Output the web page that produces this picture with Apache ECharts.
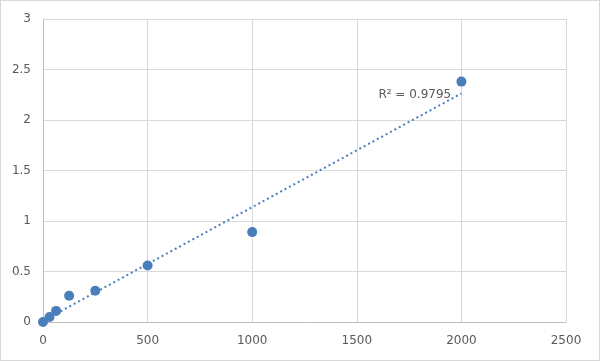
<!DOCTYPE html>
<html>
<head>
<meta charset="utf-8">
<script src="https://cdn.jsdelivr.net/npm/echarts@6/dist/echarts.min.js"></script>
<style>
html,body{margin:0;padding:0;background:#fff;}
#c{position:absolute;left:0;top:0;width:598px;height:359px;border:1px solid #d9d9d9;}
</style>
</head>
<body>
<div id="c"></div>
<script>
var concentrations = [0, 31.25, 62.5, 125, 250, 500, 1000, 2000];
var odValues = [0, 0.05, 0.11, 0.26, 0.31, 0.56, 0.89, 2.38];
var xTicks = [0, 500, 1000, 1500, 2000, 2500];
var yTicks = [0, 0.5, 1, 1.5, 2, 2.5, 3];
var r2Label = 'R² = 0.9795';

// linear least-squares trendline from the data
var n = concentrations.length, mx = 0, my = 0;
for (var i = 0; i < n; i++) { mx += concentrations[i]; my += odValues[i]; }
mx /= n; my /= n;
var sxy = 0, sxx = 0;
for (var i = 0; i < n; i++) { sxy += (concentrations[i]-mx)*(odValues[i]-my); sxx += (concentrations[i]-mx)*(concentrations[i]-mx); }
var slope = sxy / sxx, intercept = my - slope * mx;
var xMin = Math.min.apply(null, concentrations), xMax = Math.max.apply(null, concentrations);
var trend = [[xMin, intercept + slope*xMin], [xMax, intercept + slope*xMax]];

var pts = concentrations.map(function(x,i){return [x, odValues[i]];});
var blue = '#4a7ebb';
var font = 'DejaVu Sans, Liberation Sans, sans-serif';
var chart = echarts.init(document.getElementById('c'));
chart.setOption({
  animation: false,
  backgroundColor: '#fff',
  grid: {left: 42, right: 33, top: 18, bottom: 38},
  xAxis: {
    type: 'value', min: xTicks[0], max: xTicks[xTicks.length-1], interval: xTicks[1]-xTicks[0],
    axisLine: {show: true, lineStyle: {color: '#bfbfbf', width: 1}},
    axisTick: {show: false},
    axisLabel: {color: '#595959', fontSize: 12, fontFamily: font, margin: 13,
      formatter: function(v){return String(v);}},
    splitLine: {show: true, lineStyle: {color: '#d9d9d9', width: 1}}
  },
  yAxis: {
    type: 'value', min: yTicks[0], max: yTicks[yTicks.length-1], interval: yTicks[1]-yTicks[0],
    axisLine: {show: true, lineStyle: {color: '#bfbfbf', width: 1}},
    axisTick: {show: false},
    axisLabel: {color: '#595959', fontSize: 12, fontFamily: font, margin: 12,
      formatter: function(v){return String(v);}},
    splitLine: {show: true, lineStyle: {color: '#d9d9d9', width: 1}}
  },
  series: [
    {
      type: 'line', data: trend, showSymbol: false, symbol: 'none',
      lineStyle: {color: blue, width: 2, type: [2, 3]}, z: 2,
      endLabel: {show: true, formatter: r2Label, color: '#595959', fontSize: 12,
        fontFamily: font, offset: [-91, 1]}
    },
    {
      type: 'scatter', data: pts, symbol: 'circle', symbolSize: 10,
      itemStyle: {color: blue, opacity: 1}, z: 3
    }
  ]
});
</script>
</body>
</html>
